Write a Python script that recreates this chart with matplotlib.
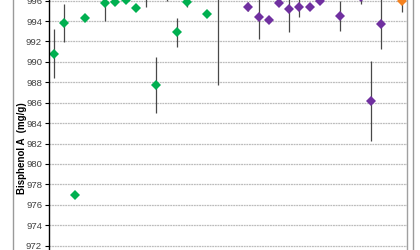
import matplotlib
matplotlib.use("Agg")
import matplotlib.pyplot as plt
from matplotlib.lines import Line2D
import numpy as np

plt.rcParams['font.family'] = ['Liberation Sans', 'DejaVu Sans']

# Lab index (1..35) and reported values (mg/g) with error half-widths
green_lab = [1, 2, 3, 4, 5, 6, 7, 8, 9, 10, 11, 12, 13, 14, 15, 16, 17, 18, 19]
green_val = [990.8, 993.8, 977.0, 994.3, 996.6, 995.8, 995.9, 996.1, 995.3, 996.8,
             987.75, 997.0, 992.9, 995.9, 996.7, 994.7, 997.0, 996.8, 996.6]
green_err = [2.4, 1.9, 0.0, 0.0, 0.3, 1.8, 0.3, 0.0, 0.0, 1.4,
             2.75, 1.0, 1.4, 0.5, 0.3, 0.2, 9.3, 0.3, 0.3]

purple_lab = [20, 21, 22, 23, 24, 25, 26, 27, 28, 29, 30, 31, 32, 33, 34]
purple_val = [995.4, 994.4, 994.1, 995.8, 995.2, 995.4, 995.4, 996.0, 996.7,
              994.5, 996.8, 996.4, 986.15, 993.7, 996.7]
purple_err = [0.45, 2.2, 0.0, 0.0, 2.3, 1.0, 0.0, 0.0, 0.3,
              1.5, 0.3, 0.7, 3.95, 2.45, 0.3]

orange_lab = [35]
orange_val = [996.0]
orange_err = [1.1]

yticks = [972, 974, 976, 978, 980, 982, 984, 986, 988, 990, 992, 994, 996]
ylabel = "Bisphenol A  (mg/g)"

fig = plt.figure(figsize=(4.2, 2.5), dpi=100)
ax = fig.add_axes([49 / 420, 0.0, (406.7 - 49) / 420, 1.0])

ebkw = dict(fmt='D', ecolor='#484848', elinewidth=0.9, capsize=1.8, capthick=0.9,
            markersize=4.8, markeredgewidth=0, linestyle='none')
ax.errorbar(green_lab, green_val, yerr=green_err, color='#00B050', **ebkw)
ax.errorbar(purple_lab, purple_val, yerr=purple_err, color='#7030A0', **ebkw)
ax.errorbar(orange_lab, orange_val, yerr=orange_err, color='#F58220', **ebkw)

ax.set_xlim(0.5, 35.5)
ax.set_ylim(971.57, 996.06)
ax.set_yticks(yticks)
ax.set_yticklabels([str(t) for t in yticks])
ax.set_xticks([])
ax.grid(axis='y', color='#bcbcbc', linestyle=(0, (1.5, 0.6)), linewidth=0.9)
ax.set_axisbelow(True)

for s in ['top', 'bottom']:
    ax.spines[s].set_visible(False)
ax.spines['left'].set_color('black')
ax.spines['left'].set_linewidth(1.0)
ax.spines['right'].set_color('#a0a0a0')
ax.spines['right'].set_linewidth(1.0)
ax.tick_params(axis='y', direction='out', length=3, width=0.8, color='black',
               labelsize=6.8, labelcolor='#404040', pad=2)

fig.text(22 / 420, 1 - 148 / 250, ylabel, rotation=90, fontsize=7, fontweight='bold',
         ha='center', va='center', color='black')

# chart-area border (left and right edges visible)
fig.add_artist(Line2D([13 / 420, 13 / 420], [0, 1], transform=fig.transFigure,
                      color='#9a9a9a', linewidth=1.0))
fig.add_artist(Line2D([412.7 / 420, 412.7 / 420], [0, 1], transform=fig.transFigure,
                      color='#9a9a9a', linewidth=1.0))

fig.savefig('out.png', dpi=100)
